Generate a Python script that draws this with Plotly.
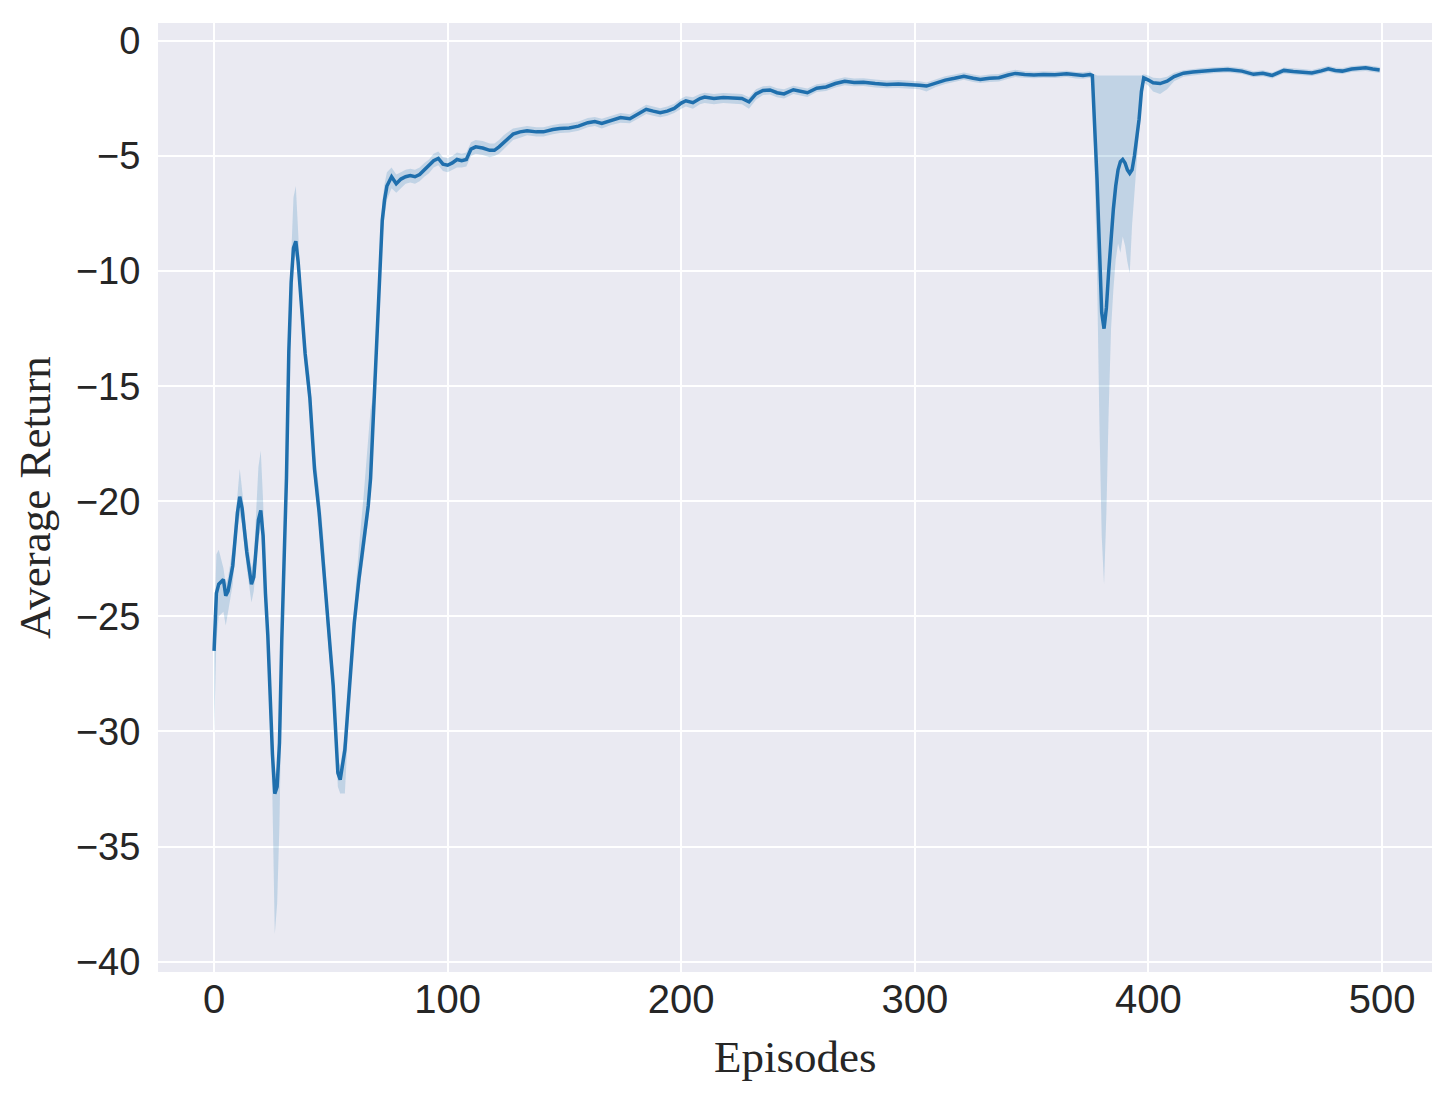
import plotly.graph_objects as go

# Episode index of each sampled point
episodes = [0, 1, 2, 4, 5, 6, 8, 10, 11, 12, 14, 16, 17, 19, 20, 21, 22, 23, 25, 26,
            27, 28, 29, 30, 31, 32, 33, 34, 35, 36, 37, 39, 41, 43, 45, 47, 49, 51, 53, 54,
            56, 58, 60, 62, 64, 66, 67, 68, 69, 70, 71, 72, 73, 74, 76, 78, 80, 82, 84, 86,
            88, 90, 92, 94, 96, 98, 100, 102, 104, 106, 108, 110, 112, 115, 118, 120, 122, 124, 126, 128,
            131, 134, 138, 141, 145, 148, 152, 156, 160, 163, 166, 170, 174, 178, 182, 185, 188, 191, 194, 197,
            200, 202, 205, 208, 210, 214, 218, 222, 226, 229, 232, 235, 238, 241, 244, 248, 251, 254, 258, 262,
            266, 270, 274, 278, 283, 288, 293, 298, 302, 305, 309, 313, 317, 321, 325, 328, 332, 336, 340, 343,
            347, 351, 355, 360, 365, 369, 372, 375, 376, 378, 379, 380, 381, 382, 383, 384, 385, 386, 387, 388,
            389, 390, 391, 392, 393, 394, 395, 396, 397, 398, 400, 402, 405, 408, 411, 415, 419, 423, 428, 434,
            440, 445, 449, 453, 458, 462, 466, 470, 474, 477, 480, 483, 487, 490, 493, 496, 499]

# Mean average return
mean_return = [-26.5, -24.0, -23.6, -23.4, -24.1, -23.9, -22.8, -20.5, -19.8, -20.3, -22.2, -23.6, -23.3, -20.8, -20.4, -21.5, -24.0, -25.8, -31.0, -32.7,
               -32.4, -30.5, -26.0, -22.0, -19.0, -13.5, -10.5, -9.0, -8.7, -9.6, -11.0, -13.6, -15.5, -18.6, -20.5, -23.0, -25.8, -28.0, -31.8, -32.1,
               -30.8, -28.0, -25.3, -23.4, -21.9, -20.2, -19.0, -16.8, -14.0, -11.8, -9.5, -7.8, -6.9, -6.3, -5.9, -6.2, -6.0, -5.9, -5.85, -5.9,
               -5.8, -5.6, -5.45, -5.2, -5.1, -5.35, -5.4, -5.3, -5.15, -5.2, -5.15, -4.7, -4.6, -4.65, -4.75, -4.75, -4.6, -4.4, -4.2, -4.05,
               -3.95, -3.9, -3.95, -3.95, -3.85, -3.8, -3.78, -3.7, -3.55, -3.5, -3.58, -3.45, -3.33, -3.38, -3.15, -2.97, -3.05, -3.12, -3.05, -2.93,
               -2.7, -2.6, -2.68, -2.5, -2.44, -2.5, -2.46, -2.48, -2.5, -2.65, -2.3, -2.15, -2.13, -2.25, -2.3, -2.12, -2.17, -2.25, -2.05, -2.0,
               -1.85, -1.75, -1.8, -1.79, -1.85, -1.89, -1.87, -1.89, -1.92, -1.96, -1.82, -1.7, -1.62, -1.53, -1.62, -1.67, -1.62, -1.6, -1.48, -1.41,
               -1.46, -1.48, -1.46, -1.47, -1.43, -1.49, -1.5, -1.46, -1.5, -6.0, -9.0, -11.8, -12.5, -11.6, -10.0, -8.5, -7.3, -6.3, -5.6, -5.25,
               -5.15, -5.3, -5.6, -5.75, -5.6, -5.0, -4.3, -3.4, -2.2, -1.6, -1.7, -1.82, -1.85, -1.75, -1.55, -1.4, -1.35, -1.31, -1.27, -1.24,
               -1.31, -1.45, -1.4, -1.5, -1.28, -1.33, -1.35, -1.39, -1.3, -1.21, -1.28, -1.31, -1.22, -1.18, -1.17, -1.22, -1.26]

# Lower edge of the confidence band
lower_ci = [-30.2, -26.0, -25.0, -24.8, -25.4, -24.8, -23.6, -21.2, -20.6, -21.0, -22.9, -24.4, -23.9, -21.6, -21.2, -22.6, -24.8, -26.5, -33.0, -38.8,
            -37.5, -34.0, -28.0, -23.2, -20.0, -14.2, -11.2, -9.6, -9.3, -10.2, -11.6, -14.2, -16.1, -19.2, -21.2, -23.6, -26.4, -28.6, -32.4, -32.7,
            -32.7, -28.6, -25.9, -24.0, -22.5, -20.8, -19.6, -17.5, -14.7, -12.5, -10.3, -8.6, -7.6, -6.9, -6.4, -6.6, -6.4, -6.2, -6.15, -6.2,
            -6.1, -5.9, -5.75, -5.5, -5.4, -5.65, -5.7, -5.6, -5.5, -5.5, -5.45, -5.0, -4.9, -4.95, -5.05, -5.0, -4.9, -4.7, -4.5, -4.3,
            -4.2, -4.1, -4.15, -4.15, -4.05, -4.0, -3.98, -3.9, -3.75, -3.7, -3.8, -3.65, -3.55, -3.58, -3.35, -3.17, -3.25, -3.32, -3.25, -3.13,
            -2.95, -2.85, -2.95, -2.75, -2.7, -2.75, -2.7, -2.72, -2.75, -2.95, -2.55, -2.35, -2.33, -2.45, -2.5, -2.3, -2.35, -2.43, -2.22, -2.17,
            -2.02, -1.92, -1.97, -1.96, -2.02, -2.06, -2.04, -2.06, -2.1, -2.2, -2.0, -1.87, -1.78, -1.69, -1.78, -1.83, -1.78, -1.76, -1.64, -1.57,
            -1.6, -1.62, -1.6, -1.61, -1.57, -1.63, -1.64, -1.6, -1.7, -10.0, -16.5, -21.5, -23.6, -20.5, -16.0, -12.5, -10.8, -9.5, -8.8, -9.2,
            -8.5, -8.9, -9.6, -10.1, -8.0, -6.5, -5.2, -3.9, -2.5, -1.8, -1.95, -2.2, -2.3, -2.1, -1.75, -1.55, -1.5, -1.45, -1.4, -1.37,
            -1.44, -1.58, -1.53, -1.63, -1.41, -1.46, -1.48, -1.52, -1.43, -1.34, -1.41, -1.44, -1.35, -1.31, -1.3, -1.35, -1.39]

# Upper edge of the confidence band
upper_ci = [-25.8, -22.3, -22.1, -22.9, -23.6, -23.3, -22.0, -19.5, -18.6, -19.5, -21.5, -22.9, -22.5, -18.5, -17.8, -20.0, -23.3, -25.0, -30.3, -31.9,
            -31.5, -29.8, -25.2, -21.2, -18.2, -12.6, -9.4, -6.8, -6.3, -8.3, -10.3, -13.0, -14.6, -17.8, -19.5, -21.8, -25.0, -27.2, -31.2, -31.5,
            -30.2, -27.3, -24.5, -22.0, -19.8, -17.5, -16.0, -15.5, -13.3, -11.0, -8.8, -7.0, -6.2, -5.7, -5.5, -5.8, -5.7, -5.6, -5.55, -5.6,
            -5.5, -5.3, -5.15, -4.9, -4.8, -5.05, -5.1, -5.0, -4.85, -4.9, -4.85, -4.4, -4.3, -4.35, -4.45, -4.45, -4.3, -4.1, -3.95, -3.8,
            -3.75, -3.7, -3.75, -3.75, -3.65, -3.6, -3.58, -3.5, -3.35, -3.3, -3.38, -3.25, -3.13, -3.18, -2.95, -2.77, -2.85, -2.92, -2.85, -2.73,
            -2.5, -2.4, -2.45, -2.3, -2.25, -2.3, -2.26, -2.28, -2.3, -2.45, -2.1, -1.97, -1.95, -2.05, -2.1, -1.95, -2.0, -2.07, -1.88, -1.83,
            -1.68, -1.58, -1.63, -1.62, -1.68, -1.72, -1.7, -1.72, -1.75, -1.8, -1.65, -1.53, -1.46, -1.37, -1.46, -1.51, -1.46, -1.44, -1.32, -1.25,
            -1.32, -1.34, -1.32, -1.33, -1.29, -1.35, -1.36, -1.32, -1.4, -1.5, -1.5, -1.5, -1.5, -1.5, -1.5, -1.5, -1.5, -1.5, -1.5, -1.5,
            -1.5, -1.5, -1.5, -1.5, -1.5, -1.5, -1.5, -1.5, -1.5, -1.45, -1.5, -1.6, -1.62, -1.55, -1.38, -1.27, -1.22, -1.18, -1.14, -1.11,
            -1.18, -1.32, -1.27, -1.37, -1.15, -1.2, -1.22, -1.26, -1.17, -1.08, -1.15, -1.18, -1.09, -1.05, -1.04, -1.09, -1.13]

x_ticks = [0, 100, 200, 300, 400, 500]
y_ticks = [0, -5, -10, -15, -20, -25, -30, -35, -40]

LINE = "#1f6fad"
BAND = "rgba(31,119,180,0.2)"

fig = go.Figure()
fig.add_trace(go.Scatter(x=episodes, y=upper_ci, mode="lines", line=dict(width=0),
                         hoverinfo="skip", showlegend=False))
fig.add_trace(go.Scatter(x=episodes, y=lower_ci, mode="lines", line=dict(width=0),
                         fill="tonexty", fillcolor=BAND, hoverinfo="skip", showlegend=False))
fig.add_trace(go.Scatter(x=episodes, y=mean_return, mode="lines",
                         line=dict(color=LINE, width=3.5), showlegend=False))

# The page body adds an 8px margin, so the figure is 8px smaller and offsets are shifted.
fig.update_layout(
    width=1447, height=1102,
    margin=dict(l=150, r=23, t=12, b=138),
    paper_bgcolor="white",
    plot_bgcolor="#eaeaf2",
    showlegend=False,
)
fig.update_xaxes(
    range=[-24, 521.4], tickvals=x_ticks, ticktext=[str(v) for v in x_ticks],
    showgrid=True, gridcolor="white", gridwidth=2, zeroline=False, showline=False,
    ticks="",
    tickfont=dict(family="Liberation Sans, Arial, sans-serif", size=40, color="#262626"),
)
fig.update_yaxes(
    range=[-40.45, 0.78], tickvals=y_ticks,
    showgrid=True, gridcolor="white", gridwidth=2, zeroline=False, showline=False,
    ticks="outside", ticklen=9, tickcolor="rgba(0,0,0,0)",
    tickfont=dict(family="Liberation Sans, Arial, sans-serif", size=38, color="#262626"),
)
fig.add_annotation(text="Episodes", xref="paper", yref="paper", x=0.5, y=-0.090,
                   xanchor="center", yanchor="middle", showarrow=False,
                   font=dict(family="Liberation Serif, Times New Roman, serif", size=45, color="#262626"))
fig.add_annotation(text="Average Return", xref="paper", yref="paper", x=-0.097, y=0.5,
                   xanchor="center", yanchor="middle", textangle=-90, showarrow=False,
                   font=dict(family="Liberation Serif, Times New Roman, serif", size=45, color="#262626"))

fig.write_html("out.html")
